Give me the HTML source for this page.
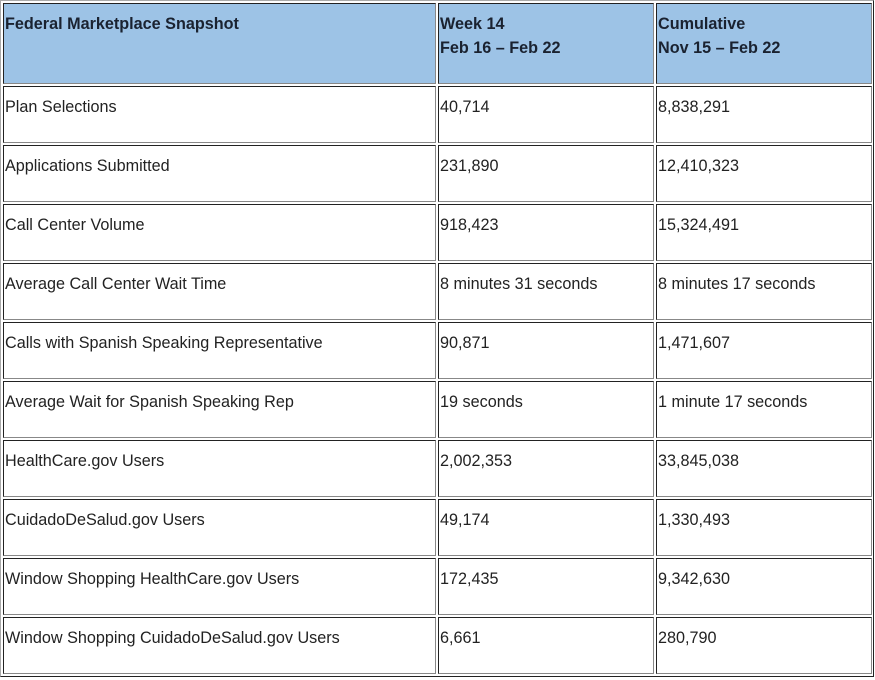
<!DOCTYPE html>
<html><head><meta charset="utf-8"><style>
body{margin:0;width:875px;height:680px;background:#fff;font-family:"Liberation Sans",Arial,sans-serif;color:#222;position:relative;overflow:hidden}
.t{position:absolute;left:0;top:0;width:872px;height:675px;border:1px solid;border-color:#aaa #222 #222 #aaa}
.c{position:absolute;box-sizing:border-box;border:1px solid;border-color:#222 #888 #888 #222;font-size:16.2px;padding:8px 0 0 1px;line-height:24px}
.h{background:#9dc3e6;font-weight:bold;padding-top:8px;color:#1a2230}
</style></head><body>
<div class="t"></div>
<div class="c h" style="left:3px;top:3px;width:433px;height:81px">Federal Marketplace Snapshot</div>
<div class="c h" style="left:438px;top:3px;width:216px;height:81px">Week 14<br>Feb 16 – Feb 22</div>
<div class="c h" style="left:656px;top:3px;width:216px;height:81px">Cumulative<br>Nov 15 – Feb 22</div>
<div id="rows"></div>
<script>
var d=[["Plan Selections","40,714","8,838,291"],["Applications Submitted","231,890","12,410,323"],["Call Center Volume","918,423","15,324,491"],["Average Call Center Wait Time","8 minutes 31 seconds","8 minutes 17 seconds"],["Calls with Spanish Speaking Representative","90,871","1,471,607"],["Average Wait for Spanish Speaking Rep","19 seconds","1 minute 17 seconds"],["HealthCare.gov Users","2,002,353","33,845,038"],["CuidadoDeSalud.gov Users","49,174","1,330,493"],["Window Shopping HealthCare.gov Users","172,435","9,342,630"],["Window Shopping CuidadoDeSalud.gov Users","6,661","280,790"]];
var h="",xs=[[3,433],[438,216],[656,216]];
d.forEach(function(r,i){var y=86+i*59;r.forEach(function(t,j){h+='<div class="c" style="left:'+xs[j][0]+'px;top:'+y+'px;width:'+xs[j][1]+'px;height:57px">'+t+'</div>';});});
document.getElementById("rows").outerHTML=h;
</script>
</body></html>
